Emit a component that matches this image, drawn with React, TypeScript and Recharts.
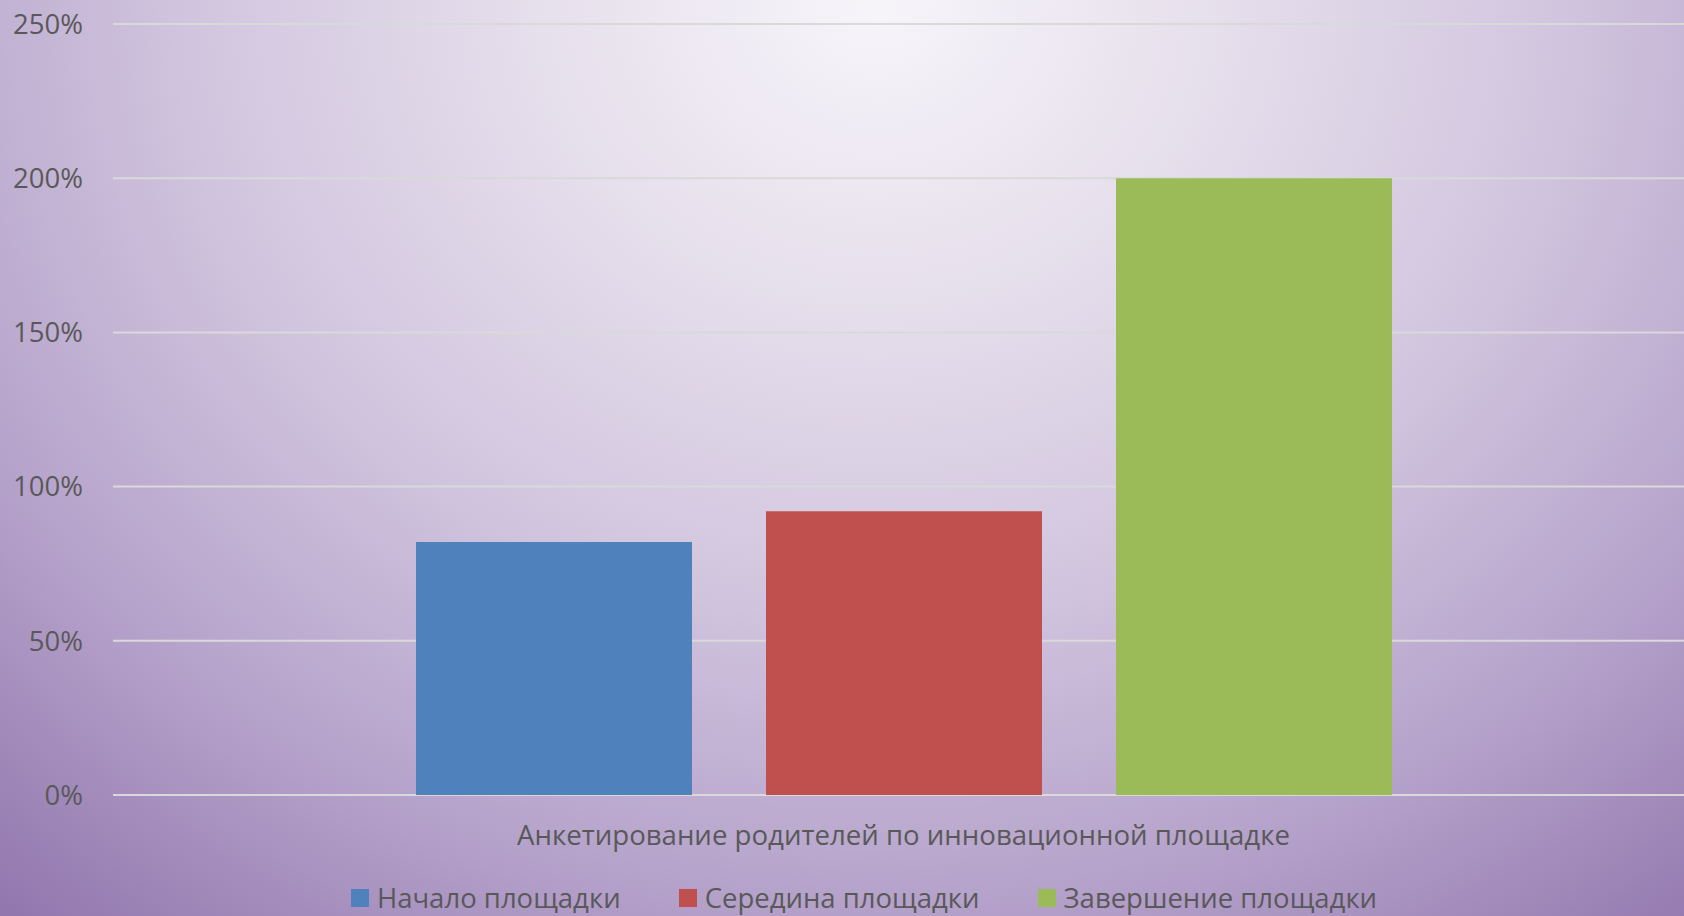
import { BarChart, Bar, XAxis, YAxis, CartesianGrid, Legend } from "recharts";

const categories = ["Анкетирование родителей по инновационной площадке"];
const seriesNames = ["Начало площадки", "Середина площадки", "Завершение площадки"];
const startValues = [0.82];
const middleValues = [0.92];
const endValues = [2.0];
const yTicks = [0, 0.5, 1, 1.5, 2, 2.5];

const data = categories.map((name, i) => ({
  name,
  start: startValues[i],
  middle: middleValues[i],
  end: endValues[i],
}));

const FONT = "'Open Sans', sans-serif";
const TEXT = "#595959";

const pct = (v: number) => `${Math.round(v * 100)}%`;

// keep legend in series order (recharts sorts it by name otherwise)
const renderLegend = (props: any) => {
  const items = [...(props.payload || [])].sort(
    (a: any, b: any) => seriesNames.indexOf(a.value) - seriesNames.indexOf(b.value)
  );
  return (
    <div
      style={{
        display: "flex",
        justifyContent: "center",
        gap: 58,
        paddingLeft: 34,
        fontFamily: FONT,
        fontSize: 27.5,
        color: TEXT,
        lineHeight: "36px",
      }}
    >
      {items.map((entry: any) => (
        <span key={entry.value} style={{ display: "flex", alignItems: "center" }}>
          <span
            style={{
              width: 18,
              height: 18,
              background: entry.color,
              display: "inline-block",
              marginRight: 8,
            }}
          />
          {entry.value}
        </span>
      ))}
    </div>
  );
};

export default function App() {
  return (
    <div
      style={{
        position: "absolute",
        left: 0,
        top: 0,
        width: 1684,
        height: 916,
        overflow: "hidden",
        background:
          "radial-gradient(ellipse 80% 130% at 52% 0%, #f7f5fa 0%, #e6dfec 25%, #d2c6df 50%, #b6a3cb 75%, #9277ae 100%)",
      }}
    >
      <BarChart
        width={1684}
        height={916}
        data={data}
        margin={{ top: 24, right: -10, left: 0, bottom: 0 }}
        barSize={276}
        barGap={74}
      >
        <CartesianGrid vertical={false} stroke="#d9d9d9" strokeWidth={2} />
        <XAxis
          dataKey="name"
          axisLine={false}
          tickLine={false}
          tickSize={0}
          tickMargin={30}
          height={85}
          tick={{ fill: TEXT, fontSize: 27.6, fontFamily: FONT }}
        />
        <YAxis
          domain={[0, 2.5]}
          ticks={yTicks}
          tickFormatter={pct}
          axisLine={false}
          tickLine={false}
          tickSize={0}
          tickMargin={30}
          width={113}
          tick={{ fill: TEXT, fontSize: 27.5, fontFamily: FONT }}
        />
        <Legend verticalAlign="bottom" content={renderLegend} />
        <Bar dataKey="start" name={seriesNames[0]} fill="#4f81bd" isAnimationActive={false} />
        <Bar dataKey="middle" name={seriesNames[1]} fill="#c0504d" isAnimationActive={false} />
        <Bar dataKey="end" name={seriesNames[2]} fill="#9bbb59" isAnimationActive={false} />
      </BarChart>
    </div>
  );
}
